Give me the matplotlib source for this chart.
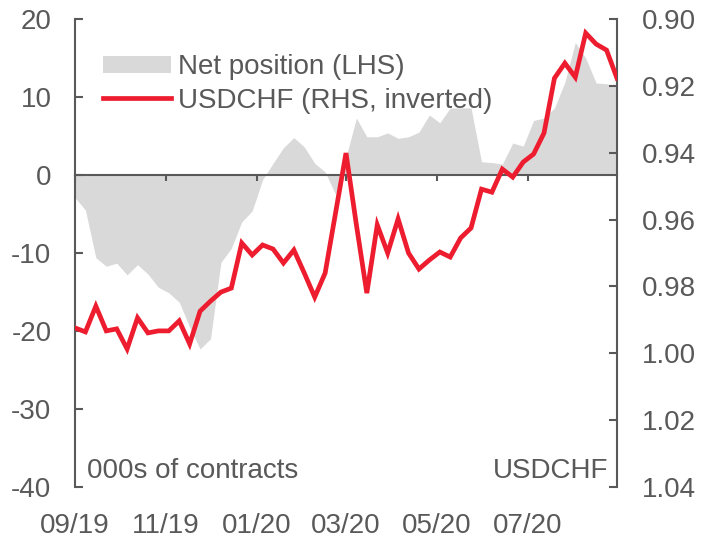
import matplotlib
matplotlib.use('Agg')
import matplotlib.pyplot as plt
from matplotlib.patches import Patch
from matplotlib.lines import Line2D
import pandas as pd

plt.rcParams['font.family'] = ['Liberation Sans', 'DejaVu Sans']

# weekly CFTC dates
dates = pd.date_range('2019-09-03', periods=53, freq='7D')

# net position, 000s of contracts (LHS)
net_position = [-2.9, -4.5, -10.6, -11.7, -11.3, -12.8, -11.5, -12.7, -14.4, -15.1,
                -16.3, -19.5, -22.3, -21.0, -11.2, -9.4, -6.0, -4.6, -0.6, 1.5,
                3.5, 4.8, 3.6, 1.5, 0.4, -2.5, 2.3, 7.3, 4.9, 4.9,
                5.4, 4.7, 4.9, 5.5, 7.7, 6.7, 8.6, 8.6, 8.6, 1.7,
                1.6, 1.4, 4.1, 3.7, 7.0, 7.3, 8.6, 11.9, 17.0, 15.0,
                11.8, 11.7, 11.4]

# USDCHF spot (RHS, inverted)
usdchf = [0.9924, 0.9936, 0.9859, 0.9933, 0.9927, 0.9987, 0.9894, 0.9939, 0.9933, 0.9933,
          0.9903, 0.9972, 0.9874, 0.9844, 0.9817, 0.9805, 0.9670, 0.9706, 0.9676, 0.9688,
          0.9730, 0.9691, 0.9760, 0.9832, 0.9760, 0.9580, 0.9401, 0.9616, 0.9820, 0.9616,
          0.9700, 0.9598, 0.9700, 0.9748, 0.9721, 0.9697, 0.9712, 0.9655, 0.9625, 0.9509,
          0.9518, 0.9449, 0.9473, 0.9428, 0.9404, 0.9341, 0.9177, 0.9132, 0.9174, 0.9042,
          0.9075, 0.9093, 0.9177]

tick_dates = pd.to_datetime(['2019-09-03', '2019-11-03', '2020-01-03',
                             '2020-03-03', '2020-05-03', '2020-07-03'])
tick_labels = ['09/19', '11/19', '01/20', '03/20', '05/20', '07/20']

left_ticks = [20, 10, 0, -10, -20, -30, -40]
right_ticks = [0.90, 0.92, 0.94, 0.96, 0.98, 1.00, 1.02, 1.04]

grey = '#595959'
fill_grey = '#D9D9D9'
red = '#ED1C2E'
fs = 20

fig = plt.figure(figsize=(7.17, 5.39), dpi=100)
ax = fig.add_axes([0.1046, 0.0965, 0.7559, 0.8682])
ax2 = ax.twinx()

ax.fill_between(dates, net_position, 0, color=fill_grey, lw=0, zorder=1)
ax.set_xlim(dates[0], dates[-1])
ax.set_ylim(-40, 20)
ax.set_yticks(left_ticks)
ax.set_yticklabels([str(t) for t in left_ticks])
ax.set_xticks(tick_dates)
ax.set_xticklabels(tick_labels)

# x axis sits on the zero line, labels stay at the bottom
ax.spines['bottom'].set_position(('data', 0))
ax.spines['bottom'].set_color(grey)
ax.spines['bottom'].set_linewidth(1.5)
ax.spines['bottom'].set_zorder(2.5)
ax.tick_params(axis='x', direction='out', length=4.5, width=1.5, color=grey,
               pad=239, labelsize=fs, labelcolor=grey)
ax.tick_params(axis='y', direction='in', length=6, width=1.5, color=grey,
               pad=17, labelsize=fs, labelcolor=grey)
for s in ['top', 'right']:
    ax.spines[s].set_visible(False)
ax.spines['left'].set_color(grey)
ax.spines['left'].set_linewidth(1.5)

ax2.plot(dates, usdchf, color=red, lw=3.4, solid_joinstyle='miter', zorder=3)
ax2.set_ylim(1.04, 0.90)
ax2.set_yticks(right_ticks)
ax2.set_yticklabels(['%.2f' % t for t in right_ticks])
ax2.tick_params(axis='y', direction='in', length=6, width=1.5, color=grey,
                pad=18, labelsize=fs, labelcolor=grey)
for s in ['top', 'left', 'bottom']:
    ax2.spines[s].set_visible(False)
ax2.spines['right'].set_color(grey)
ax2.spines['right'].set_linewidth(1.5)

handles = [Patch(facecolor=fill_grey, edgecolor='none', label='Net position (LHS)'),
           Line2D([0], [0], color=red, lw=3.4, label='USDCHF (RHS, inverted)')]
leg = ax2.legend(handles=handles, loc='upper left', bbox_to_anchor=(0.052, 0.925),
                 frameon=False, fontsize=fs, borderpad=0, borderaxespad=0,
                 handlelength=2.45, handleheight=0.6, handletextpad=0.25,
                 labelspacing=0.27)
for t in leg.get_texts():
    t.set_color(grey)

ax2.text(0.022, 0.02, '000s of contracts', transform=ax2.transAxes,
         fontsize=fs, color=grey, ha='left', va='baseline')
ax2.text(0.983, 0.02, 'USDCHF', transform=ax2.transAxes,
         fontsize=fs, color=grey, ha='right', va='baseline')

fig.savefig('out.png', dpi=100)
